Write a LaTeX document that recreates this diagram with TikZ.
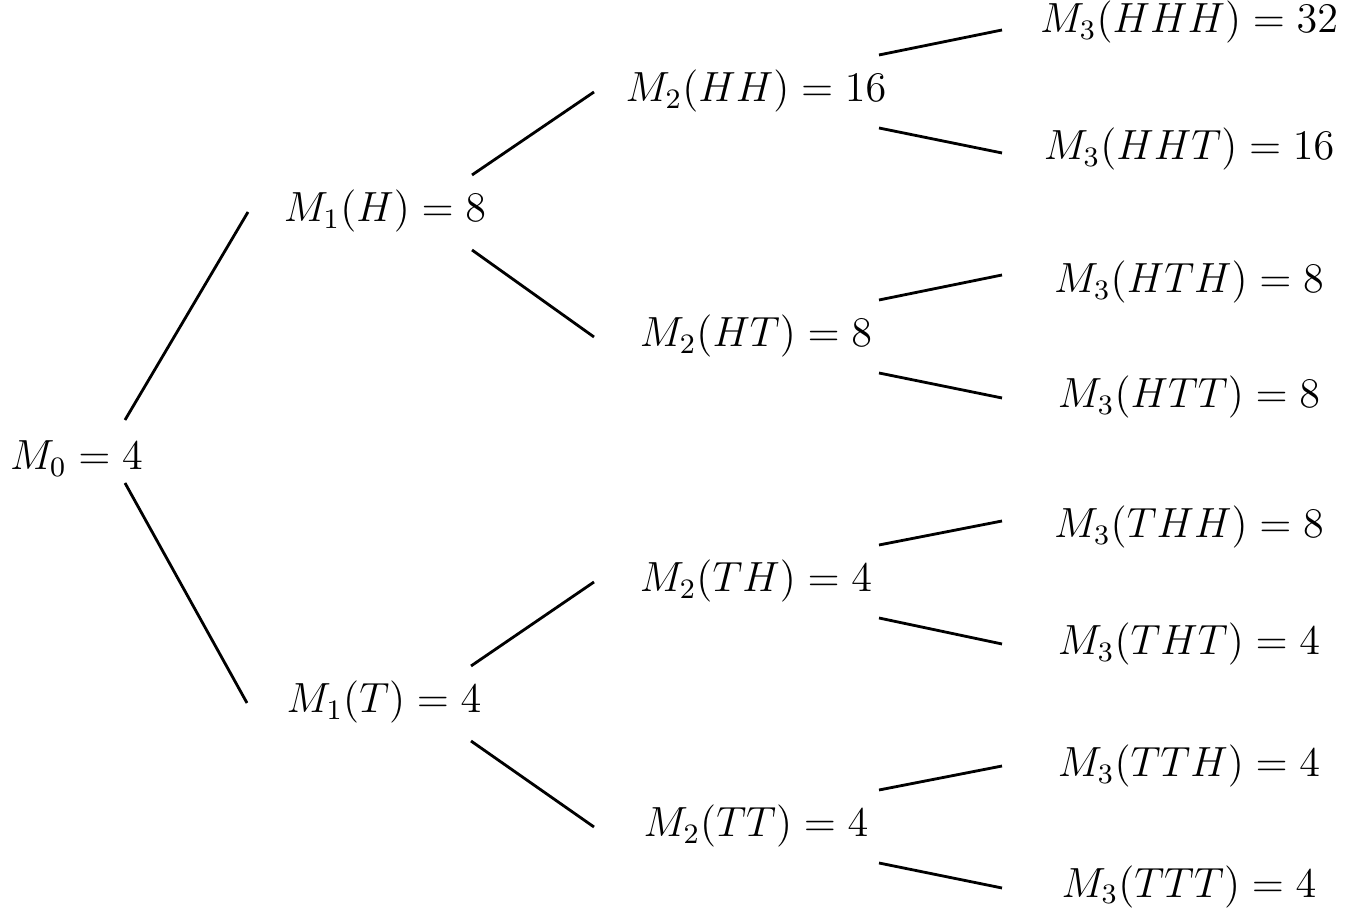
\documentclass[tikz,border=0pt]{standalone}
\usepackage{amsmath}

\begin{document}
\begin{tikzpicture}[line width=0.8pt, every node/.style={font=\fontsize{11.7}{14}\selectfont}]
\tikzstyle{val}=[inner sep=0pt,anchor=base]
\useasboundingbox (0,0) rectangle (13.52,9.07);
\node[val] (m0) at (0.765,4.37) {$M_0=4$};
\node[val] (m1h) at (3.85,6.85) {$M_1(H)=8$};
\node[val] (m1t) at (3.84,1.94) {$M_1(T)=4$};
\node[val] (m2hh) at (7.56,8.05) {$M_2(HH)=16$};
\node[val] (m2ht) at (7.56,5.60) {$M_2(HT)=8$};
\node[val] (m2th) at (7.56,3.15) {$M_2(TH)=4$};
\node[val] (m2tt) at (7.56,0.70) {$M_2(TT)=4$};
\node[val] (m3hhh) at (11.89,8.74) {$M_3(HHH)=32$};
\node[val] (m3hht) at (11.89,7.47) {$M_3(HHT)=16$};
\node[val] (m3hth) at (11.89,6.14) {$M_3(HTH)=8$};
\node[val] (m3htt) at (11.89,4.99) {$M_3(HTT)=8$};
\node[val] (m3thh) at (11.89,3.69) {$M_3(THH)=8$};
\node[val] (m3tht) at (11.89,2.52) {$M_3(THT)=4$};
\node[val] (m3tth) at (11.89,1.30) {$M_3(TTH)=4$};
\node[val] (m3ttt) at (11.89,0.10) {$M_3(TTT)=4$};
% first toss
\draw ([shift={(0.485,0.50)}]m0.base) -- ([shift={(-1.37,0.10)}]m1h.base);
\draw ([shift={(0.485,-0.13)}]m0.base) -- ([shift={(-1.37,0.10)}]m1t.base);
% second toss
\draw ([shift={(0.87,0.47)}]m1h.base) -- ([shift={(-1.62,0.10)}]m2hh.base);
\draw ([shift={(0.87,-0.28)}]m1h.base) -- ([shift={(-1.62,0.10)}]m2ht.base);
\draw ([shift={(0.87,0.47)}]m1t.base) -- ([shift={(-1.62,0.10)}]m2th.base);
\draw ([shift={(0.87,-0.28)}]m1t.base) -- ([shift={(-1.62,0.10)}]m2tt.base);
% third toss
\draw ([shift={(1.23,0.47)}]m2hh.base) -- ([shift={(-1.87,0.03)}]m3hhh.base);
\draw ([shift={(1.23,-0.26)}]m2hh.base) -- ([shift={(-1.87,0.07)}]m3hht.base);
\draw ([shift={(1.23,0.47)}]m2ht.base) -- ([shift={(-1.87,0.18)}]m3hth.base);
\draw ([shift={(1.23,-0.26)}]m2ht.base) -- ([shift={(-1.87,0.10)}]m3htt.base);
\draw ([shift={(1.23,0.47)}]m2th.base) -- ([shift={(-1.87,0.17)}]m3thh.base);
\draw ([shift={(1.23,-0.26)}]m2th.base) -- ([shift={(-1.87,0.11)}]m3tht.base);
\draw ([shift={(1.23,0.47)}]m2tt.base) -- ([shift={(-1.87,0.11)}]m3tth.base);
\draw ([shift={(1.23,-0.26)}]m2tt.base) -- ([shift={(-1.87,0.09)}]m3ttt.base);
\end{tikzpicture}
\end{document}
